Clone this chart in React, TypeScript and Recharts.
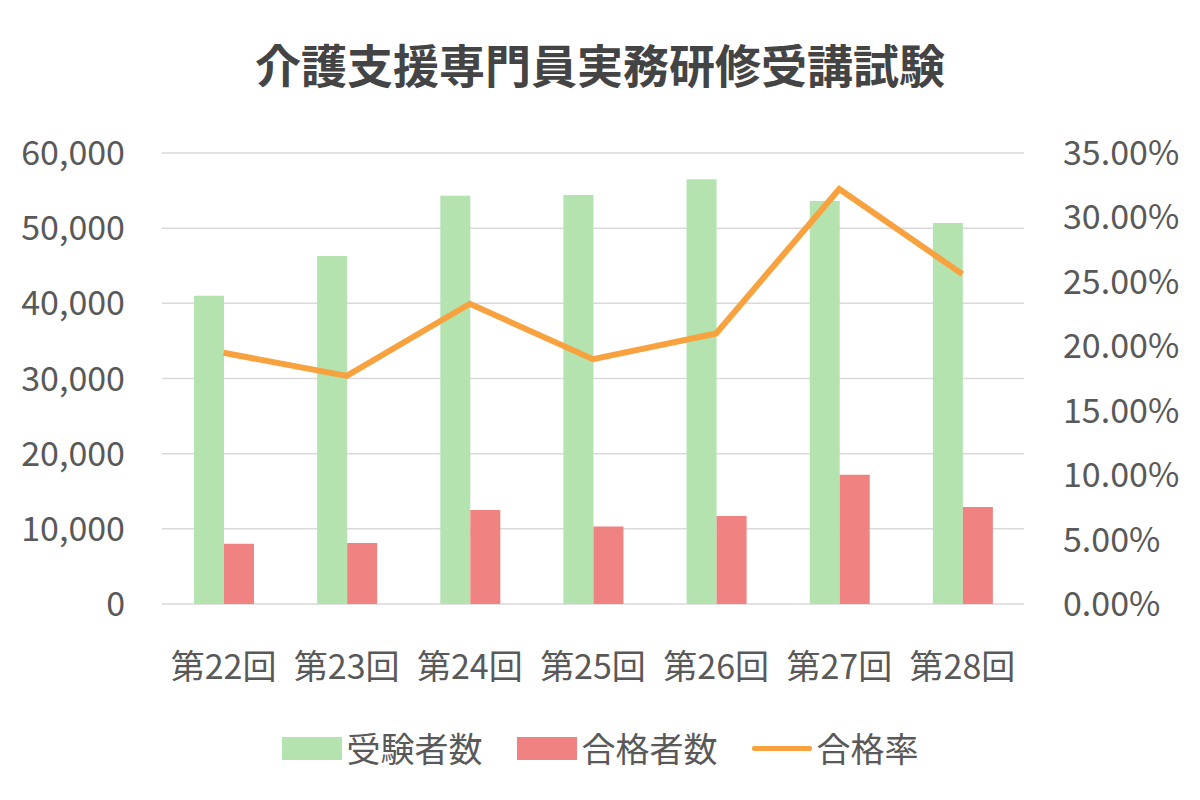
import {
    ComposedChart,
    Bar,
    Line,
    XAxis,
    YAxis,
    CartesianGrid,
    Legend,
} from "recharts";

const rounds = ["第22回", "第23回", "第24回", "第25回", "第26回", "第27回", "第28回"];
const examinees = [41000, 46300, 54300, 54400, 56500, 53600, 50700];
const passers = [8000, 8100, 12500, 10300, 11700, 17200, 12900];
const passRate = [19.5, 17.7, 23.3, 19.0, 21.0, 32.2, 25.6];

const countTicks = [0, 10000, 20000, 30000, 40000, 50000, 60000];
const rateTicks = [0, 5, 10, 15, 20, 25, 30, 35];

const FONT = '"Noto Sans CJK JP", "Noto Sans", sans-serif';
const TEXT = "#595959";
const GREEN = "#B4E3B0";
const RED = "#F08282";
const ORANGE = "#F7A23E";

const chartData = rounds.map((r, i) => ({
    round: r,
    examinees: examinees[i],
    passers: passers[i],
    rate: passRate[i],
}));

// 凡例は見た目を合わせるため自前で描く
const renderLegend = () => {
    const items = [
        { label: "受験者数", color: GREEN, kind: "rect" },
        { label: "合格者数", color: RED, kind: "rect" },
        { label: "合格率", color: ORANGE, kind: "line" },
    ];
    return (
        <div style={{ display: "flex", justifyContent: "center", alignItems: "center", gap: 34, height: 50 }}>
            {items.map((it) => (
                <div key={it.label} style={{ display: "flex", alignItems: "center" }}>
                    {it.kind === "rect" ? (
                        <span style={{ display: "inline-block", width: 60, height: 23, background: it.color }} />
                    ) : (
                        <span style={{ display: "inline-block", width: 60, height: 5, background: it.color, borderRadius: 2 }} />
                    )}
                    <span style={{ marginLeft: 5, fontSize: 34, color: TEXT, fontFamily: FONT, lineHeight: "40px" }}>
                        {it.label}
                    </span>
                </div>
            ))}
        </div>
    );
};

export default function App() {
    return (
        <div style={{ position: "relative", width: 1200, height: 800, background: "#fff", fontFamily: FONT }}>
            <style>{`body{margin:0}`}</style>
            <div
                style={{
                    position: "absolute",
                    top: 35,
                    left: 0,
                    width: 1200,
                    textAlign: "center",
                    fontSize: 46,
                    lineHeight: "56px",
                    fontWeight: 700,
                    color: "#444444",
                    zIndex: 1,
                }}
            >
                介護支援専門員実務研修受講試験
            </div>
            <ComposedChart
                width={1200}
                height={800}
                data={chartData}
                margin={{ top: 153, right: 0, bottom: 27, left: 0 }}
                barGap={0}
                barCategoryGap="26%"
            >
                <CartesianGrid yAxisId="left" vertical={false} stroke="#D9D9D9" strokeWidth={1.5} />
                <XAxis
                    dataKey="round"
                    height={119}
                    axisLine={false}
                    tickLine={false}
                    tickMargin={45}
                    tick={{ fill: TEXT, fontSize: 34, fontFamily: FONT }}
                />
                <YAxis
                    yAxisId="left"
                    width={162}
                    domain={[0, 60000]}
                    ticks={countTicks}
                    axisLine={false}
                    tickLine={false}
                    tickMargin={31}
                    tickFormatter={(v: number) => v.toLocaleString("en-US")}
                    tick={{ fill: TEXT, fontSize: 34, fontFamily: FONT }}
                />
                <YAxis
                    yAxisId="right"
                    orientation="right"
                    width={176}
                    domain={[0, 35]}
                    ticks={rateTicks}
                    axisLine={false}
                    tickLine={false}
                    tickMargin={33}
                    tickFormatter={(v: number) => v.toFixed(2) + "%"}
                    tick={{ fill: TEXT, fontSize: 34, fontFamily: FONT }}
                />
                <Legend verticalAlign="bottom" height={50} content={renderLegend} />
                <Bar yAxisId="left" dataKey="examinees" name="受験者数" fill={GREEN} isAnimationActive={false} />
                <Bar yAxisId="left" dataKey="passers" name="合格者数" fill={RED} isAnimationActive={false} />
                <Line
                    yAxisId="right"
                    type="linear"
                    dataKey="rate"
                    name="合格率"
                    stroke={ORANGE}
                    strokeWidth={6}
                    dot={false}
                    isAnimationActive={false}
                />
            </ComposedChart>
        </div>
    );
}
